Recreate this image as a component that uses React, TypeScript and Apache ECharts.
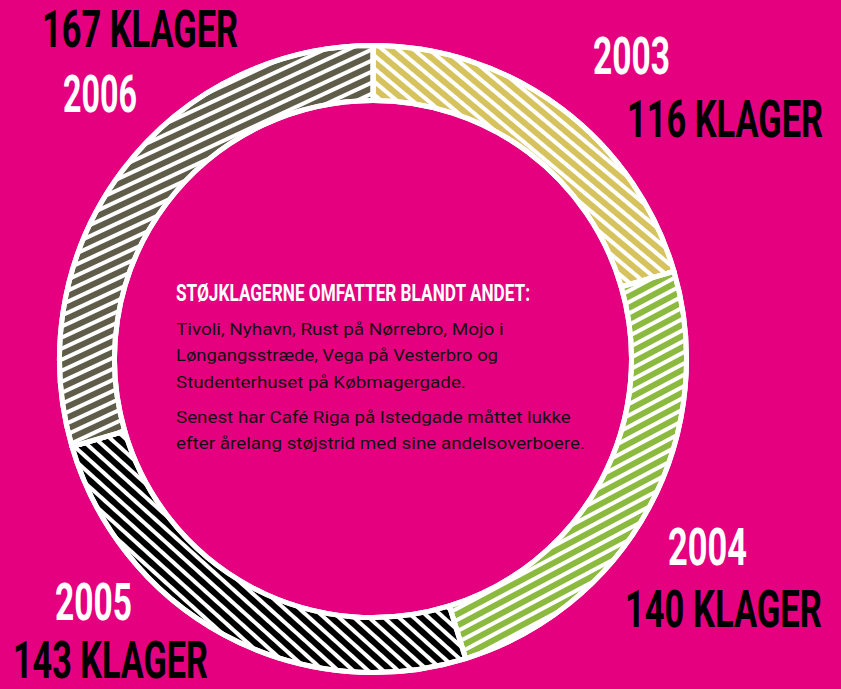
import React, { useEffect, useRef } from 'react';
import * as echarts from 'echarts';

// ---- data ----
const years = ['2003', '2004', '2005', '2006'];
const complaints = [116, 140, 143, 167];
const unitLabel = 'KLAGER';
const noteTitle = 'STØJKLAGERNE OMFATTER BLANDT ANDET:';
const noteLines = [
  'Tivoli, Nyhavn, Rust på Nørrebro, Mojo i',
  'Løngangsstræde, Vega på Vesterbro og',
  'Studenterhuset på Købmagergade.',
  'Senest har Café Riga på Istedgade måttet lukke',
  'efter årelang støjstrid med sine andelsoverboere.',
];

// ---- styles / layout ----
const BG = '#e4007e';
const sliceColors = ['#d6c35e', '#8bba3f', '#000000', '#5f5d4a'];
const stripeAngles = [40, -28, 42, -25]; // degrees, + = ascending stripes
// [x left, y cap-centre, target width]
const yearLabelLayout = [
  [593, 56.5, 77],
  [668, 548.5, 79],
  [55, 602.5, 77],
  [63, 94, 74],
];
const countLabelLayout = [
  [627, 120, 196],
  [625, 610, 197],
  [13, 661, 195],
  [42, 30, 196],
];
const noteX = 176;
const noteTitleY = 293;
const noteTitleW = 355;
const noteLineY = [329, 355, 382, 417, 443];
const noteLineW = [328, 322, 290, 395, 409];

const FAMILY = 'Roboto';

let measureCtx: CanvasRenderingContext2D | null = null;
function fitScale(text: string, weight: string, size: number, target: number) {
  if (!measureCtx) measureCtx = document.createElement('canvas').getContext('2d');
  if (!measureCtx) return 1;
  measureCtx.font = `${weight} ${size}px ${FAMILY}`;
  const w = measureCtx.measureText(text).width;
  return w > 0 ? target / w : 1;
}

function textEl(text: string, x: number, y: number, width: number, size: number, weight: string, fill: string) {
  return {
    type: 'text',
    x,
    y,
    scaleX: fitScale(text, weight, size, width),
    silent: true,
    style: {
      text,
      fontFamily: FAMILY,
      fontSize: size,
      fontWeight: weight,
      fill,
      align: 'left',
      verticalAlign: 'middle',
    },
  };
}

export default function App() {
  const ref = useRef<HTMLDivElement>(null);

  useEffect(() => {
    if (!ref.current) return;
    const chart = echarts.init(ref.current, null, { renderer: 'svg' });

    const pieData = years.map((y, i) => ({
      name: y,
      value: complaints[i],
      itemStyle: {
        color: sliceColors[i],
        decal: {
          symbol: 'rect',
          symbolSize: 1,
          dashArrayX: [1, 0],
          dashArrayY: [4, 6],
          rotation: (stripeAngles[i] * Math.PI) / 180,
          color: '#ffffff',
        },
      },
    }));

    const graphics: any[] = [];
    years.forEach((y, i) => {
      const [yx, yy, yw] = yearLabelLayout[i];
      graphics.push(textEl(y, yx, yy, yw, 51, 'bold', '#ffffff'));
      const [cx, cy, cw] = countLabelLayout[i];
      graphics.push(textEl(`${complaints[i]} ${unitLabel}`, cx, cy, cw, 51, 'bold', '#000000'));
    });
    graphics.push(textEl(noteTitle, noteX, noteTitleY, noteTitleW, 23, 'bold', '#ffffff'));
    noteLines.forEach((line, i) => {
      graphics.push(textEl(line, noteX, noteLineY[i], noteLineW[i], 17, 'normal', '#141014'));
    });

    chart.setOption({
      animation: false,
      backgroundColor: BG,
      series: [
        {
          type: 'pie',
          center: [373, 359],
          radius: [258.5, 313.5],
          startAngle: 90,
          clockwise: true,
          silent: true,
          label: { show: false },
          labelLine: { show: false },
          emphasis: { disabled: true },
          itemStyle: { borderColor: '#ffffff', borderWidth: 5 },
          data: pieData,
        },
      ],
      graphic: graphics,
    });

    return () => chart.dispose();
  }, []);

  return (
    <div
      ref={ref}
      style={{ position: 'fixed', left: 0, top: 0, width: 841, height: 689 }}
    />
  );
}
